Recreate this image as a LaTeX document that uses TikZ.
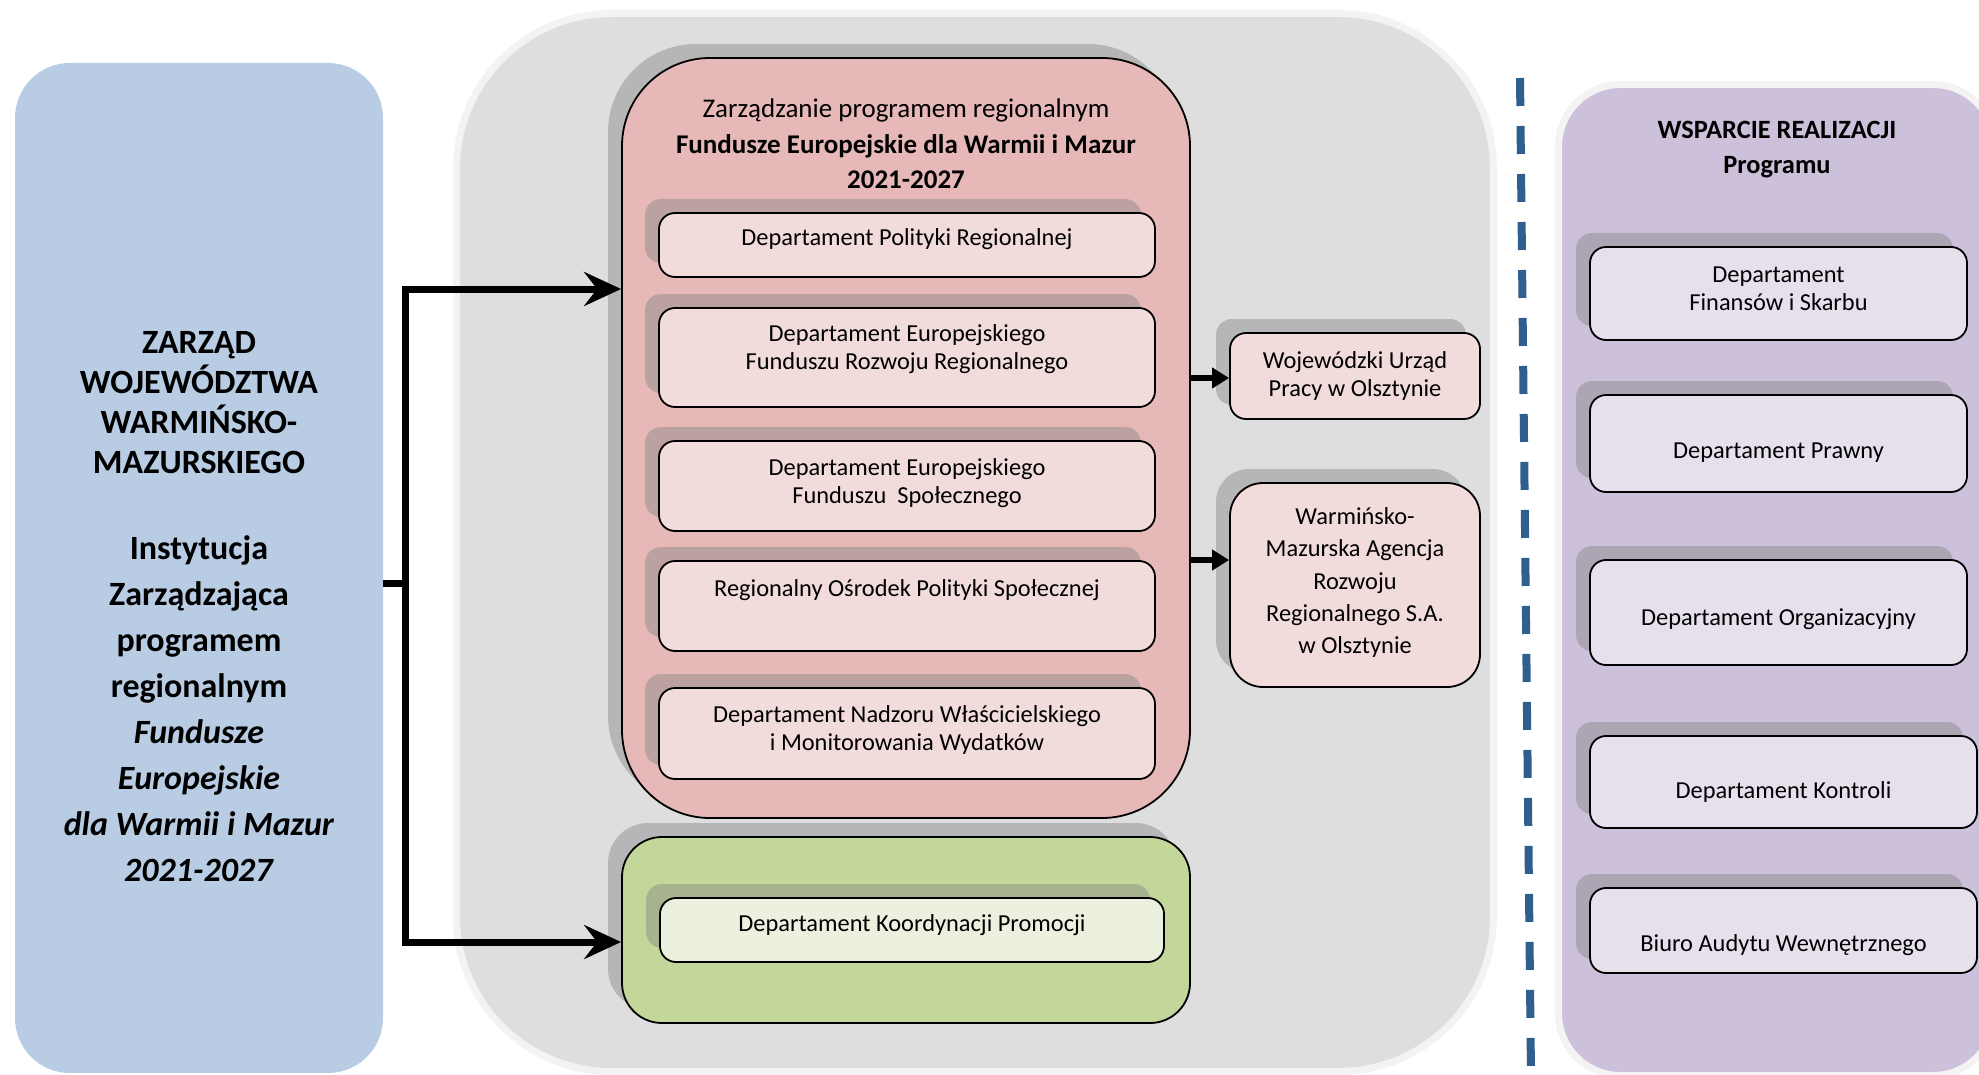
\documentclass[tikz,border=0pt]{standalone}
\usepackage{fontspec}
\setmainfont{Carlito}
\usetikzlibrary{arrows.meta,shadows}

\definecolor{zarzadblue}{RGB}{184,204,228}
\definecolor{panelgray}{RGB}{222,222,222}
\definecolor{ringgray}{RGB}{243,243,243}
\definecolor{progpink}{RGB}{230,185,184}
\definecolor{deptpink}{RGB}{242,220,219}
\definecolor{promgreen}{RGB}{196,215,155}
\definecolor{deptgreen}{RGB}{235,241,222}
\definecolor{supplilac}{RGB}{204,192,218}
\definecolor{deptlilac}{RGB}{229,224,236}
\definecolor{dashblue}{RGB}{46,95,143}

\tikzset{
  >={Stealth[length=18.5pt,width=17pt,inset=6.5pt]},
  sh/.style={drop shadow={shadow xshift=-7pt,shadow yshift=7pt,opacity=.42,fill=black!50}},
  box/.style={draw=black,line width=.9pt,rounded corners=8pt,inner sep=0pt},
  pinkdept/.style={box,sh,fill=deptpink,minimum width=248pt},
  lilacdept/.style={box,sh,fill=deptlilac},
  dtext/.style={align=center,inner sep=0pt,font=\fontsize{12.2}{14}\selectfont},
  conn/.style={line width=3.5pt},
  smallarrow/.style={line width=3pt,-{Triangle[length=8.5pt,width=10pt]}},
}

\begin{document}
\begin{tikzpicture}[x=0.5pt,y=-0.5pt]
  \useasboundingbox (0,0) rectangle (1979,1075);
  \fill[white] (0,0) rectangle (1979,1075);

  % zarzad
  \node[fill=zarzadblue,rounded corners=27.5pt,minimum width=184pt,minimum height=505pt] (zarzad) at (199,568) {};
  \node[align=center,anchor=north,inner sep=0pt,font=\fontsize{17}{20}\selectfont\bfseries] (zarzad-t) at (199,331)
    {ZARZĄD\\WOJEWÓDZTWA\\WARMIŃSKO-\\MAZURSKIEGO\\[23pt]Instytucja\\[3pt]Zarządzająca\\[3pt]programem\\[3pt]regionalnym\\[3pt]%
     \textit{Fundusze}\\[3pt]\textit{Europejskie}\\[3pt]\textit{dla Warmii i Mazur}\\[3pt]\textit{2021-2027}};

  % programme panel
  \node[fill=panelgray,draw=ringgray,line width=3.5pt,rounded corners=77.5pt,minimum width=518.5pt,minimum height=529pt] (panel) at (975,542.5) {};

  \node[box,sh,fill=progpink,rounded corners=44pt,minimum width=284pt,minimum height=380pt] (zpr) at (906,438) {};
  \node[align=center,inner sep=0pt,font=\fontsize{13.5}{17.75}\selectfont] (zpr-t) at (906,144)
    {Zarządzanie programem regionalnym\\\textbf{Fundusze Europejskie dla Warmii i Mazur}\\\textbf{2021-2027}};

  \node[pinkdept,minimum height=32pt] (dpr) at (907,245) {};
  \node[dtext] (dpr-t) at (907,239) {Departament Polityki Regionalnej};
  \node[pinkdept,minimum height=49.5pt] (efrr) at (907,357.5) {};
  \node[dtext] (efrr-t) at (907,349.5) {Departament Europejskiego\\Funduszu Rozwoju Regionalnego};
  \node[pinkdept,minimum height=45pt] (efs) at (907,486) {};
  \node[dtext] (efs-t) at (907,483.5) {Departament Europejskiego\\Funduszu\ \ Społecznego};
  \node[pinkdept,minimum height=45pt] (rops) at (907,606) {};
  \node[dtext] (rops-t) at (907,590) {Regionalny Ośrodek Polityki Społecznej};
  \node[pinkdept,minimum height=45.5pt] (dnw) at (907,733.5) {};
  \node[dtext] (dnw-t) at (907,730) {Departament Nadzoru Właścicielskiego\\i Monitorowania Wydatków};

  \node[box,sh,fill=promgreen,rounded corners=20pt,minimum width=284pt,minimum height=93pt] (prom) at (906,930) {};
  \node[box,sh,fill=deptgreen,minimum width=252pt,minimum height=32pt] (dkp) at (912,930) {};
  \node[dtext] (dkp-t) at (912,925) {Departament Koordynacji Promocji};

  \node[box,sh,fill=deptpink,minimum width=125pt,minimum height=43pt] (wup) at (1355,376) {};
  \node[dtext] (wup-t) at (1355,376) {Wojewódzki Urząd\\Pracy w Olsztynie};
  \node[box,sh,fill=deptpink,rounded corners=16.5pt,minimum width=125pt,minimum height=102pt] (wmarr) at (1355,585) {};
  \node[dtext,font=\fontsize{12.2}{16.2}\selectfont] (wmarr-t) at (1355,582.5)
    {Warmińsko-\\Mazurska Agencja\\Rozwoju\\Regionalnego S.A.\\w Olsztynie};

  % connectors
  \coordinate (fork) at (405,583);
  \coordinate (ftop) at (405,289);
  \coordinate (fbot) at (405,942);
  \draw[conn] (zarzad.east |- fork) -- (fork);
  \draw[conn,<->] (ftop -| zpr.west) -- (ftop) -- (fbot) -- (fbot -| prom.west);
  \coordinate (a1) at (1190,378);
  \coordinate (a2) at (1190,560);
  \draw[smallarrow] (a1) -- (a1 -| wup.west);
  \draw[smallarrow] (a2) -- (a2 -| wmarr.west);

  \draw[dashblue,line width=4pt,dash pattern=on 14pt off 10pt] (1520,78) -- (1531,1075);

  % support
  \node[fill=supplilac,draw=ringgray,line width=3.5pt,rounded corners=31pt,minimum width=218.25pt,minimum height=495.5pt] (wsparcie) at (1776.75,580) {};
  \node[align=center,inner sep=0pt,font=\fontsize{13.2}{17.5}\selectfont\bfseries] (wsparcie-t) at (1777,149.5)
    {WSPARCIE REALIZACJI\\Programu};

  \node[lilacdept,minimum width=188.5pt,minimum height=46.5pt] (dfis) at (1778.5,293.5) {};
  \node[dtext] (dfis-t) at (1778.5,289) {Departament\\Finansów i Skarbu};
  \node[lilacdept,minimum width=188.5pt,minimum height=48.5pt] (dpraw) at (1778.5,443.5) {};
  \node[dtext] (dpraw-t) at (1778.5,453) {Departament Prawny};
  \node[lilacdept,minimum width=188.5pt,minimum height=52.5pt] (dorg) at (1778.5,612.5) {};
  \node[dtext] (dorg-t) at (1778.5,619) {Departament Organizacyjny};
  \node[lilacdept,minimum width=193.5pt,minimum height=46pt] (dkon) at (1783.5,782) {};
  \node[dtext] (dkon-t) at (1783.5,792) {Departament Kontroli};
  \node[lilacdept,minimum width=193.5pt,minimum height=42.5pt] (baw) at (1783.5,930.5) {};
  \node[dtext] (baw-t) at (1783.5,945) {Biuro Audytu Wewnętrznego};
\end{tikzpicture}
\end{document}
